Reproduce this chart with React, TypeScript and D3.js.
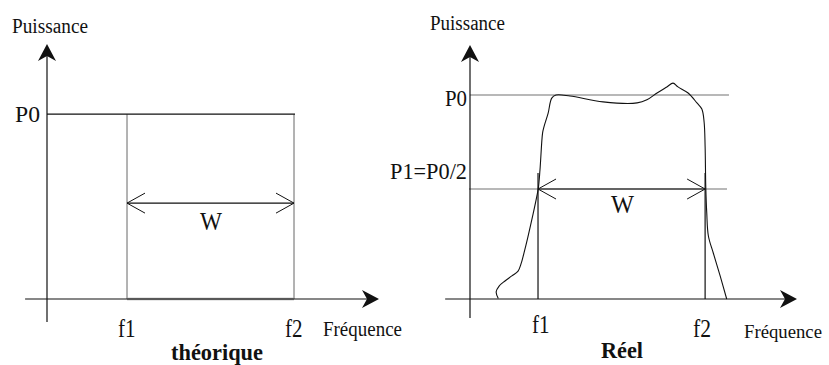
import React from "react";
import * as d3 from "d3";

// ---- data (abstract units: frequency 0..100, power 0..100) ----
const leftFreqs = [24.1, 74.4]; // f1, f2 (theoretical)
const leftFreqLabels = ["f1", "f2"];
const leftP0 = 72.5;
const leftArrowLevel = 37.6;

const rightFreqs = [20.8, 71.9]; // f1, f2 (real)
const rightFreqLabels = ["f1", "f2"];
const rightP0 = 80.3;
const rightP1 = 43.3;
const rightFreqTop = 49.6;

const curveFreq = [8.65, 8.0, 8.9, 10.7, 12.8, 14.7, 15.6, 16.5, 17.7, 19.3, 20.4, 20.9, 21.4, 22.2, 22.6, 23.9, 25.0, 26.3, 30.6, 40.7, 51.1, 54.1, 57.2, 60.2, 62.1, 63.6, 66.7, 69.4, 70.9, 71.6, 71.9, 72.1, 72.4, 72.9, 74.4, 76.5, 78.5];
const curvePower = [0.2, 2.8, 5.1, 7.1, 9.1, 11.0, 13.8, 18.1, 24.4, 33.5, 40.2, 43.7, 50.8, 65.4, 67.7, 73.2, 79.1, 80.3, 79.9, 77.6, 77.2, 78.4, 81.1, 83.5, 85.0, 83.5, 81.1, 77.2, 74.8, 69.6, 60.0, 44.2, 33.9, 24.8, 18.1, 9.1, 0.0];

const FONT = "Liberation Serif";
const BLACK = "#111";
const GRAY = "#a0a0a0";

function arrowPath(x: number, y: number, angle: number) {
  const pts: [number, number][] = [[0, 0], [-17, -9], [-12, 0], [-17, 9]];
  const c = Math.cos(angle), s = Math.sin(angle);
  const p = pts.map(([px, py]) => [x + px * c - py * s, y + px * s + py * c]);
  return "M" + p.map((q) => q.join(",")).join("L") + "Z";
}

function openHead(x: number, y: number, dir: number) {
  return `M${x - dir * 18},${y - 10}L${x},${y}L${x - dir * 18},${y + 10}`;
}

function Label(props: { x: number; y: number; w: number; size: number; bold?: boolean; children: string }) {
  return (
    <text
      x={props.x}
      y={props.y}
      fontSize={props.size}
      fontWeight={props.bold ? "bold" : "normal"}
      textLength={props.w}
      lengthAdjust="spacingAndGlyphs"
      fill={BLACK}
      style={{ fontFamily: FONT }}
    >
      {props.children}
    </text>
  );
}

export default function App() {
  const xL = d3.scaleLinear().domain([0, 100]).range([47, 379]);
  const yL = d3.scaleLinear().domain([0, 100]).range([299, 44]);
  const xR = d3.scaleLinear().domain([0, 100]).range([470, 797]);
  const yR = d3.scaleLinear().domain([0, 100]).range([299, 45]);

  const curvePts: [number, number][] = curveFreq.map((f, i) => [f, curvePower[i]]);
  const line = d3
    .line<[number, number]>()
    .x((d) => xR(d[0]))
    .y((d) => yR(d[1]))
    .curve(d3.curveCatmullRom.alpha(0.5));

  const [lf1, lf2] = leftFreqs;
  const [rf1, rf2] = rightFreqs;

  return (
    <svg width={829} height={365} style={{ position: "absolute", left: 0, top: 0, background: "#fff" }}>
      <rect width={829} height={365} fill="#fff" />
      {/* ---------- LEFT: théorique ---------- */}
      <g>
        <line x1={xL(lf1)} x2={xL(lf1)} y1={yL(0)} y2={yL(leftP0)} stroke={GRAY} strokeWidth={1.6} />
        <line x1={xL(lf2)} x2={xL(lf2)} y1={yL(0)} y2={yL(leftP0)} stroke={GRAY} strokeWidth={1.6} />
        <line x1={xL(lf1)} x2={xL(lf2)} y1={yL(0)} y2={yL(0)} stroke={GRAY} strokeWidth={2.4} />
        <line x1={xL(-6.6)} x2={xL(100) - 8} y1={yL(0)} y2={yL(0)} stroke={BLACK} strokeWidth={1.2} />
        <line x1={xL(0)} x2={xL(0)} y1={yL(-9)} y2={yL(100) + 8} stroke={BLACK} strokeWidth={1.2} />
        <path d={arrowPath(xL(100), yL(0), 0)} fill={BLACK} />
        <path d={arrowPath(xL(0), yL(100), -Math.PI / 2)} fill={BLACK} />
        <line x1={xL(0)} x2={xL(lf2) + 1} y1={yL(leftP0)} y2={yL(leftP0)} stroke={BLACK} strokeWidth={1.4} />
        <line x1={xL(lf1)} x2={xL(lf2)} y1={yL(leftArrowLevel)} y2={yL(leftArrowLevel)} stroke={BLACK} strokeWidth={1.2} />
        <path d={openHead(xL(lf1), yL(leftArrowLevel), -1)} fill="none" stroke={BLACK} strokeWidth={1} />
        <path d={openHead(xL(lf2), yL(leftArrowLevel), 1)} fill="none" stroke={BLACK} strokeWidth={1} />
        <Label x={12} y={33} w={76} size={20}>Puissance</Label>
        <Label x={15} y={yL(leftP0) + 8} w={25} size={24}>P0</Label>
        <Label x={200} y={yL(leftArrowLevel) + 27} w={22} size={25}>W</Label>
        {leftFreqs.map((f, i) => (
          <Label key={i} x={xL(f) - 9} y={337} w={17.5} size={25}>{leftFreqLabels[i]}</Label>
        ))}
        <Label x={323} y={336} w={79} size={21}>Fréquence</Label>
        <Label x={171} y={360} w={92} size={24} bold>théorique</Label>
      </g>

      {/* ---------- RIGHT: Réel ---------- */}
      <g>
        <line x1={xR(0)} x2={xR(79.2)} y1={yR(rightP0)} y2={yR(rightP0)} stroke={GRAY} strokeWidth={1.6} />
        <line x1={xR(-0.3)} x2={xR(78.6)} y1={yR(rightP1)} y2={yR(rightP1)} stroke={GRAY} strokeWidth={1.6} />
        <line x1={xR(-7.6)} x2={xR(100) - 8} y1={yR(0)} y2={yR(0)} stroke={BLACK} strokeWidth={1.2} />
        <line x1={xR(0)} x2={xR(0)} y1={yR(-7.5)} y2={yR(100) + 8} stroke={BLACK} strokeWidth={1.2} />
        <path d={arrowPath(xR(100), yR(0), 0)} fill={BLACK} />
        <path d={arrowPath(xR(0), yR(100), -Math.PI / 2)} fill={BLACK} />
        {rightFreqs.map((f, i) => (
          <line key={i} x1={xR(f)} x2={xR(f)} y1={yR(0)} y2={yR(rightFreqTop)} stroke={BLACK} strokeWidth={1.2} />
        ))}
        <path d={line(curvePts) || ""} fill="none" stroke={BLACK} strokeWidth={1.1} />
        <line x1={xR(rf1)} x2={xR(rf2)} y1={yR(rightP1)} y2={yR(rightP1)} stroke={BLACK} strokeWidth={1.2} />
        <path d={openHead(xR(rf1), yR(rightP1), -1)} fill="none" stroke={BLACK} strokeWidth={1} />
        <path d={openHead(xR(rf2), yR(rightP1), 1)} fill="none" stroke={BLACK} strokeWidth={1} />
        <Label x={430} y={30} w={75} size={20}>Puissance</Label>
        <Label x={445} y={yR(rightP0) + 11} w={22} size={24}>P0</Label>
        <Label x={390} y={yR(rightP1) - 10} w={77} size={23}>P1=P0/2</Label>
        <Label x={611} y={213} w={23} size={25}>W</Label>
        <Label x={xR(rf1) - 6} y={333} w={17.5} size={25}>{rightFreqLabels[0]}</Label>
        <Label x={xR(rf2) - 12} y={337} w={18} size={25}>{rightFreqLabels[1]}</Label>
        <Label x={744} y={338} w={78} size={19}>Fréquence</Label>
        <Label x={601} y={358} w={42} size={24} bold>Réel</Label>
      </g>
    </svg>
  );
}
